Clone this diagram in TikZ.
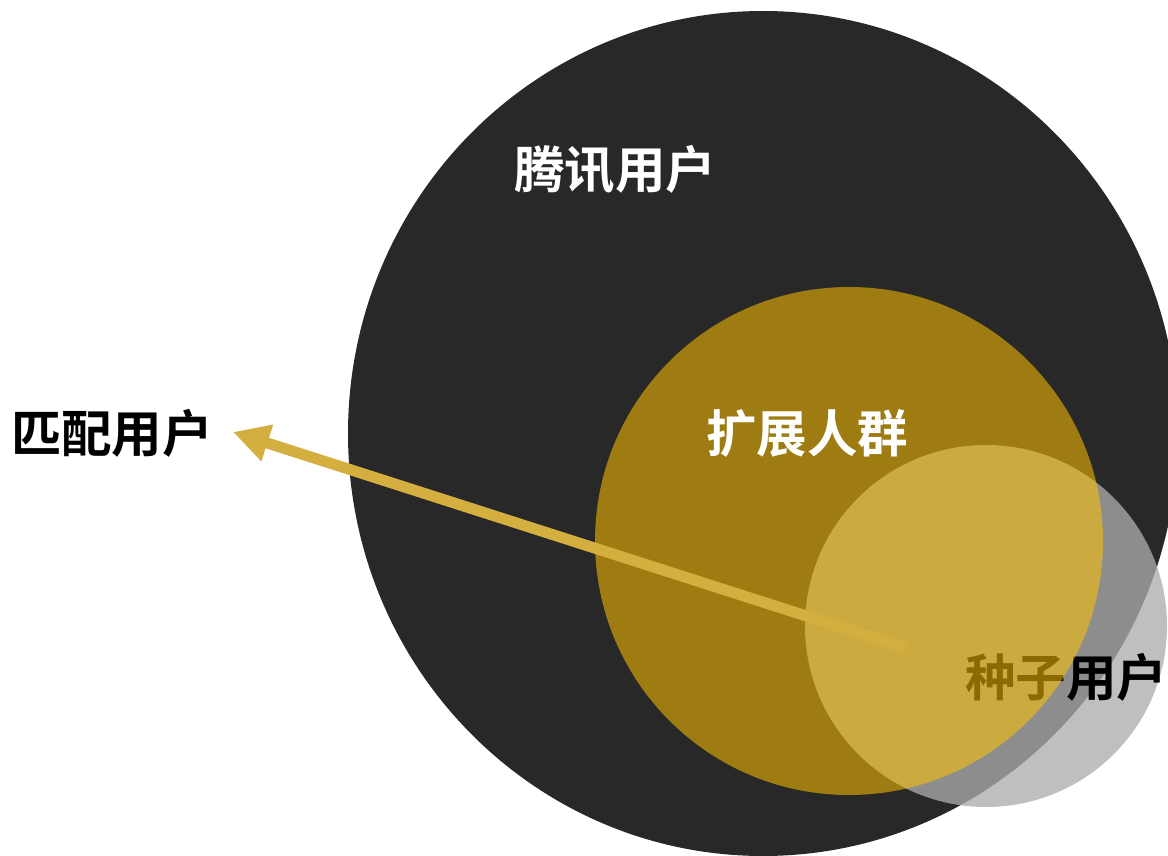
\documentclass[tikz,border=0pt]{standalone}
\usepackage{fontspec}
\usepackage{xcolor}
\usepackage{tikz}
\usetikzlibrary{arrows.meta}
\newfontfamily\cjk{Noto Sans CJK SC}[BoldFont={Noto Sans CJK SC Bold}]

\definecolor{darkring}{RGB}{40,40,40}
\definecolor{goldfill}{RGB}{255,194,0}
\definecolor{seedgray}{RGB}{172,172,172}
\definecolor{arrowgold}{RGB}{212,175,64}

\tikzset{
    label/.style={font=\cjk\bfseries\fontsize{50.5}{50.5}\selectfont, inner sep=0pt},
}

\begin{document}
\begin{tikzpicture}[x=1pt, y=-1pt]
    \useasboundingbox (0,0) rectangle (1168,856);
    \clip (0,0) rectangle (1168,856);

    \fill[color=darkring] (763,433.5) ellipse[x radius=415, y radius=422.5];
    \fill[color=seedgray, opacity=0.77] (986,626) circle[radius=181];
    \node[label, text=black] (seed) at (1066,677) {种子用户};
    \fill[color=goldfill, opacity=0.55] (849,541) circle[radius=254];

    \coordinate (tail) at (906,648);
    \coordinate (tip) at (233,432);
    \draw[-{Triangle[length=36pt, width=36pt]}, line width=11pt, color=arrowgold] (tail) -- (tip);

    \node[label, text=white] (tencent) at (615,170) {腾讯用户};
    \node[label, text=white] (expand) at (807,433) {扩展人群};
    \node[label, text=black] (match) at (112,433) {匹配用户};
\end{tikzpicture}
\end{document}
